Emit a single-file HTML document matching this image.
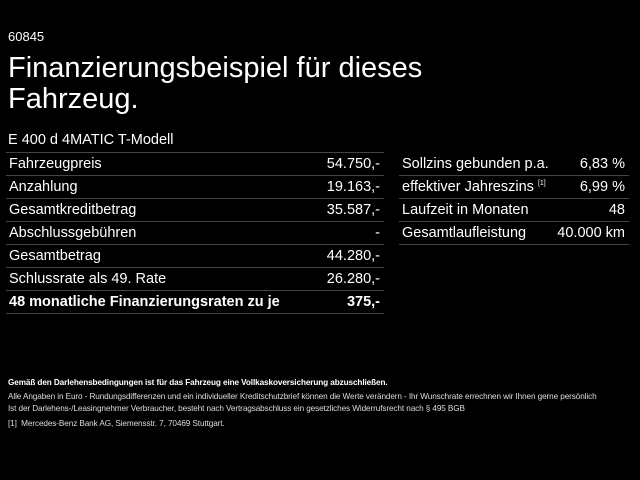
<!DOCTYPE html><html><head><style>
body{margin:0;width:640px;height:480px;background:#000;color:#fff;font-family:"Liberation Sans",sans-serif;position:relative;overflow:hidden}
.a{position:absolute;white-space:nowrap}
.r{position:absolute;height:23px;line-height:22px;font-size:14.5px;border-bottom:1px solid #444;box-sizing:border-box}
.r span{position:absolute;right:4px;top:0}
.r b{font-weight:bold}
.f{position:absolute;left:8px;font-size:8.2px;white-space:nowrap;color:#ddd;letter-spacing:-0.1px}
</style></head><body>
<div class="a" style="left:8px;top:29px;font-size:13px">60845</div>
<div class="a" style="left:8px;top:53px;font-size:29px;line-height:31px;letter-spacing:0px">Finanzierungsbeispiel für dieses<br>Fahrzeug.</div>
<div class="a" style="left:8px;top:132px;font-size:14.5px">E 400 d 4MATIC T-Modell</div>
<div style="position:absolute;left:6px;top:152px;width:378px;border-top:1px solid #444"></div>
<div class="r" style="left:6px;top:153px;width:378px;padding-left:3px">Fahrzeugpreis<span>54.750,-</span></div>
<div class="r" style="left:6px;top:176px;width:378px;padding-left:3px">Anzahlung<span>19.163,-</span></div>
<div class="r" style="left:6px;top:199px;width:378px;padding-left:3px">Gesamtkreditbetrag<span>35.587,-</span></div>
<div class="r" style="left:6px;top:222px;width:378px;padding-left:3px">Abschlussgebühren<span>-</span></div>
<div class="r" style="left:6px;top:245px;width:378px;padding-left:3px">Gesamtbetrag<span>44.280,-</span></div>
<div class="r" style="left:6px;top:268px;width:378px;padding-left:3px">Schlussrate als 49. Rate<span>26.280,-</span></div>
<div class="r" style="left:6px;top:291px;width:378px;padding-left:3px"><b>48 monatliche Finanzierungsraten zu je</b><span><b>375,-</b></span></div>
<div class="r" style="left:399px;top:153px;width:230px;padding-left:3px">Sollzins gebunden p.a.<span>6,83 %</span></div>
<div class="r" style="left:399px;top:176px;width:230px;padding-left:3px">effektiver Jahreszins <sup style="font-size:7px;vertical-align:6px;line-height:0">[1]</sup><span>6,99 %</span></div>
<div class="r" style="left:399px;top:199px;width:230px;padding-left:3px">Laufzeit in Monaten<span>48</span></div>
<div class="r" style="left:399px;top:222px;width:230px;padding-left:3px">Gesamtlaufleistung<span>40.000 km</span></div>
<div class="f" style="top:378px;font-weight:bold;color:#fff">Gemäß den Darlehensbedingungen ist für das Fahrzeug eine Vollkaskoversicherung abzuschließen.</div>
<div class="f" style="top:392px">Alle Angaben in Euro - Rundungsdifferenzen und ein individueller Kreditschutzbrief können die Werte verändern - Ihr Wunschrate errechnen wir Ihnen gerne persönlich</div>
<div class="f" style="top:404px">Ist der Darlehens-/Leasingnehmer Verbraucher, besteht nach Vertragsabschluss ein gesetzliches Widerrufsrecht nach § 495 BGB</div>
<div class="f" style="top:419px">[1] &nbsp;Mercedes-Benz Bank AG, Siemensstr. 7, 70469 Stuttgart.</div>
</body></html>
